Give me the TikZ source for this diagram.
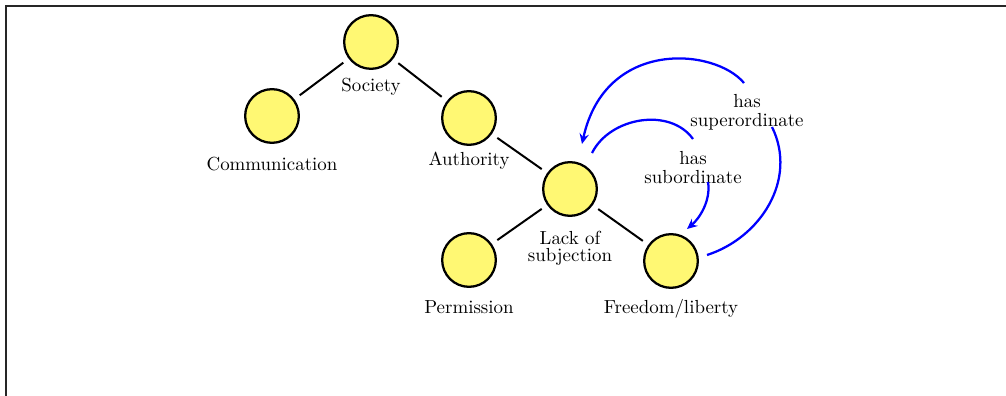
\documentclass[tikz,border=0pt]{standalone}
\usetikzlibrary{arrows.meta}
\begin{document}
\begin{tikzpicture}[x=0.529pt,y=-0.529pt,
  circ/.style={circle, draw=black, line width=1.2pt, fill=yellow!55, minimum size=28.4pt, inner sep=0pt},
  link/.style={line width=1.05pt, shorten <=3.5pt, shorten >=3.5pt},
  txt/.style={font=\fontsize{10}{10}\selectfont, inner sep=0pt, align=center},
  rel/.style={blue, line width=1.2pt},
  relarrow/.style={rel, -{Stealth[length=5.5pt, width=5pt, inset=2pt]}},
  frameline/.style={line width=0.8pt, black!85}]
\useasboundingbox (0,0) rectangle (1006,396);
\draw[frameline] (6,396) -- (6,6) -- (1006,6);
% nodes
\node[circ] (soc) at (371,42) {};
\node[circ] (com) at (272,116) {};
\node[circ] (aut) at (469,118) {};
\node[circ] (lack) at (570,189) {};
\node[circ] (perm) at (469,260) {};
\node[circ] (free) at (671,261) {};
% labels
\node[txt, anchor=base] (socl) at (371,92) {Society};
\node[txt, anchor=base] (coml) at (272,171) {Communication};
\node[txt, anchor=base] (autl) at (469,166) {Authority};
\node[txt, font=\fontsize{10}{9}\selectfont] (lackl) at (570,248.5) {Lack of\\subjection};
\node[txt, anchor=base] (perml) at (469,314) {Permission};
\node[txt, anchor=base] (freel) at (671,314) {Freedom/liberty};
\node[txt, font=\fontsize{10}{10.5}\selectfont] (subl) at (693,167.5) {has\\subordinate};
\node[txt] (supl) at (747,112) {has\\superordinate};
% tree links
\draw[link] (soc) -- (com);
\draw[link] (soc) -- (aut);
\draw[link] (aut) -- (lack);
\draw[link] (lack) -- (perm);
\draw[link] (lack) -- (free);
% has subordinate
\draw[rel] ([shift={(22,-36)}]lack.center) .. controls (610,117) and (670,107) .. ([shift={(0,-28.5)}]subl.center);
\draw[relarrow] ([shift={(15,14.5)}]subl.center) .. controls (711,200) and (700,218) .. ([shift={(16,-32)}]free.center);
% has superordinate
\draw[rel] ([shift={(36,-6)}]free.center) .. controls (760,238) and (798,180) .. ([shift={(25,15)}]supl.center);
\draw[relarrow] ([shift={(-3,-29)}]supl.center) .. controls (715,48) and (605,38) .. ([shift={(12,-45)}]lack.center);
\end{tikzpicture}
\end{document}
